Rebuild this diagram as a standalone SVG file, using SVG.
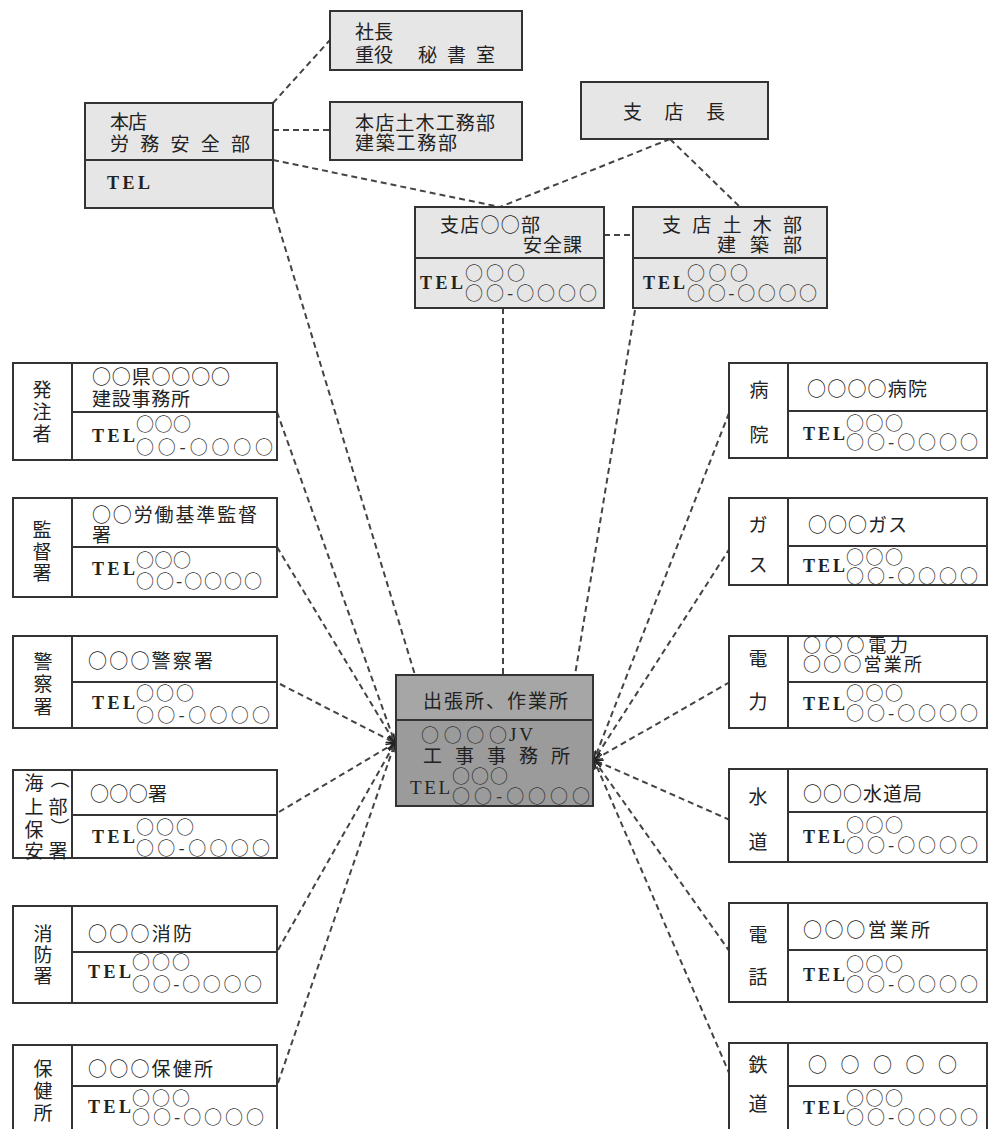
<svg xmlns="http://www.w3.org/2000/svg" width="990" height="1129" viewBox="0 0 990 1129">
<style>
.box{fill:#fff;stroke:#333;stroke-width:2}
.gbox{fill:#e6e6e6;stroke:#333;stroke-width:2}
.cbox{fill:#9b9b9b;stroke:#333;stroke-width:2}
.chd{fill:#a6a6a6;stroke:#333;stroke-width:2}
.ln{stroke:#333;stroke-width:2;fill:none}
.t{font-family:"Noto Sans CJK JP","Noto Sans CJK SC",sans-serif;font-size:19px;fill:#222;dominant-baseline:central}
.o{font-family:"Noto Sans CJK JP",sans-serif;font-size:18px;fill:#333}
.tel{font-family:"Liberation Serif",serif;font-weight:bold;font-size:18px;fill:#222}
.m{text-anchor:middle}
.conn{stroke:#444;stroke-width:2;stroke-dasharray:6 4;fill:none}
</style>
<defs>
<marker id="arr" viewBox="0 0 10 10" refX="10" refY="5" markerWidth="9" markerHeight="9" orient="auto" markerUnits="userSpaceOnUse">
<path d="M0,1 L10,5 L0,9" fill="none" stroke="#222" stroke-width="1.6" stroke-dasharray="none"/>
</marker>
</defs>

<g id="connectors">
<path class="conn" d="M273,103 L330,40"/>
<path class="conn" d="M273,130 L330,130"/>
<path class="conn" d="M273,160 L500,207"/>
<path class="conn" d="M670,139 L500,207"/>
<path class="conn" d="M670,139 L740,207"/>
<path class="conn" d="M604,235 L633,235"/>
<path class="conn" d="M273,208 L415,675"/>
<path class="conn" d="M503,308 L503,675"/>
<path class="conn" d="M635,310 L575,675"/>
<path class="conn" d="M277,412 L395,743" marker-end="url(#arr)"/>
<path class="conn" d="M277,547 L395,743" marker-end="url(#arr)"/>
<path class="conn" d="M280,684 L395,743" marker-end="url(#arr)"/>
<path class="conn" d="M279,812 L395,743" marker-end="url(#arr)"/>
<path class="conn" d="M278,950 L395,743" marker-end="url(#arr)"/>
<path class="conn" d="M278,1083 L395,743" marker-end="url(#arr)"/>
<path class="conn" d="M729,413 L594,760" marker-end="url(#arr)"/>
<path class="conn" d="M730,548 L594,760" marker-end="url(#arr)"/>
<path class="conn" d="M730,682 L594,760" marker-end="url(#arr)"/>
<path class="conn" d="M730,820 L594,760" marker-end="url(#arr)"/>
<path class="conn" d="M730,952 L594,760" marker-end="url(#arr)"/>
<path class="conn" d="M730,1075 L594,760" marker-end="url(#arr)"/>
</g>

<g id="shacho">
<rect class="gbox" x="330" y="11" width="192" height="59"/>
<text class="t"><tspan x="355" y="30" textLength="38" lengthAdjust="spacing">社長</tspan><tspan x="355" y="53" textLength="38" lengthAdjust="spacing">重役</tspan><tspan x="418" y="53" textLength="77" lengthAdjust="spacing">秘書室</tspan></text>
</g>

<g id="honten-koumu">
<rect class="gbox" x="330" y="102" width="192" height="58"/>
<text class="t"><tspan x="355" y="121" textLength="140" lengthAdjust="spacing">本店土木工務部</tspan><tspan x="355" y="141" textLength="102" lengthAdjust="spacing">建築工務部</tspan></text>
</g>

<g id="honten-anzen">
<rect class="gbox" x="85" y="103" width="188" height="105"/>
<line class="ln" x1="85" y1="160" x2="273" y2="160"/>
<text class="t"><tspan x="110" y="120" textLength="37" lengthAdjust="spacing">本店</tspan><tspan x="110" y="142" textLength="140" lengthAdjust="spacing">労務安全部</tspan></text>
<text class="t tel" x="107" y="183" textLength="43" lengthAdjust="spacing">TEL</text>
</g>

<g id="shitencho">
<rect class="gbox" x="581" y="82" width="187" height="57"/>
<text class="t" x="623" y="110" textLength="102" lengthAdjust="spacing">支店長</text>
</g>

<g id="shiten-anzen">
<rect class="gbox" x="415" y="207" width="189" height="101"/>
<line class="ln" x1="415" y1="258" x2="604" y2="258"/>
<text class="t"><tspan x="440" y="223" textLength="100" lengthAdjust="spacing">支店○○部</tspan><tspan x="523" y="243" textLength="59" lengthAdjust="spacing">安全課</tspan></text>
<text class="t"><tspan class="tel" x="420" y="283" textLength="43" lengthAdjust="spacing">TEL</tspan><tspan class="o" x="465" y="272" textLength="60" lengthAdjust="spacing">○○○</tspan><tspan class="o" x="465" y="292" textLength="132" lengthAdjust="spacing">○○-○○○○</tspan></text>
</g>

<g id="shiten-doboku">
<rect class="gbox" x="633" y="207" width="194" height="101"/>
<line class="ln" x1="633" y1="258" x2="827" y2="258"/>
<text class="t"><tspan x="662" y="223" textLength="140" lengthAdjust="spacing">支店土木部</tspan><tspan x="717" y="243" textLength="85" lengthAdjust="spacing">建築部</tspan></text>
<text class="t"><tspan class="tel" x="643" y="283" textLength="42" lengthAdjust="spacing">TEL</tspan><tspan class="o" x="687" y="272" textLength="61" lengthAdjust="spacing">○○○</tspan><tspan class="o" x="687" y="292" textLength="130" lengthAdjust="spacing">○○-○○○○</tspan></text>
</g>

<g id="center">
<rect class="cbox" x="396" y="675" width="197" height="131"/>
<rect class="chd" x="396" y="675" width="197" height="45"/>
<text class="t" x="423" y="699" textLength="145" lengthAdjust="spacing">出張所、作業所</text>
<text class="t"><tspan class="o" x="421" y="734" textLength="86" lengthAdjust="spacing">○○○○</tspan><tspan x="509" y="734" style="font-family:'Liberation Serif',serif" textLength="24" lengthAdjust="spacing">JV</tspan><tspan x="423" y="754" textLength="147" lengthAdjust="spacing">工事事務所</tspan><tspan x="410" y="787" style="font-family:'Liberation Serif',serif" textLength="40" lengthAdjust="spacing">TEL</tspan><tspan class="o" x="452" y="775" textLength="56" lengthAdjust="spacing">○○○</tspan><tspan class="o" x="452" y="795" textLength="138" lengthAdjust="spacing">○○-○○○○</tspan></text>
</g>

<!-- Left boxes -->
<g id="hacchusha">
<rect class="box" x="13" y="363" width="264" height="97"/>
<line class="ln" x1="72" y1="363" x2="72" y2="460"/>
<line class="ln" x1="72" y1="412" x2="277" y2="412"/>
<text class="t m"><tspan x="42" y="388">発</tspan><tspan x="42" y="410">注</tspan><tspan x="42" y="432">者</tspan></text>
<text class="t"><tspan x="92" y="375" textLength="138" lengthAdjust="spacing">○○県○○○○</tspan><tspan x="92" y="397" textLength="98" lengthAdjust="spacing">建設事務所</tspan></text>
<text class="t"><tspan class="tel" x="92" y="436" textLength="43" lengthAdjust="spacing">TEL</tspan><tspan class="o" x="136" y="423" textLength="55" lengthAdjust="spacing">○○○</tspan><tspan class="o" x="136" y="446" textLength="137" lengthAdjust="spacing">○○-○○○○</tspan></text>
</g>

<g id="kantokusho">
<rect class="box" x="13" y="498" width="264" height="99"/>
<line class="ln" x1="72" y1="498" x2="72" y2="597"/>
<line class="ln" x1="72" y1="547" x2="277" y2="547"/>
<text class="t m"><tspan x="42" y="528">監</tspan><tspan x="42" y="550">督</tspan><tspan x="42" y="571">署</tspan></text>
<text class="t"><tspan x="92" y="513" textLength="165" lengthAdjust="spacing">○○労働基準監督</tspan><tspan x="92" y="533">署</tspan></text>
<text class="t"><tspan class="tel" x="92" y="569" textLength="43" lengthAdjust="spacing">TEL</tspan><tspan class="o" x="136" y="559" textLength="55" lengthAdjust="spacing">○○○</tspan><tspan class="o" x="136" y="580" textLength="126" lengthAdjust="spacing">○○-○○○○</tspan></text>
</g>

<g id="keisatsusho">
<rect class="box" x="13" y="636" width="264" height="92"/>
<line class="ln" x1="72" y1="636" x2="72" y2="728"/>
<line class="ln" x1="72" y1="682" x2="277" y2="682"/>
<text class="t m"><tspan x="43" y="660">警</tspan><tspan x="43" y="682">察</tspan><tspan x="43" y="705">署</tspan></text>
<text class="t" x="88" y="659" textLength="125" lengthAdjust="spacing">○○○警察署</text>
<text class="t"><tspan class="tel" x="92" y="703" textLength="43" lengthAdjust="spacing">TEL</tspan><tspan class="o" x="136" y="692" textLength="58" lengthAdjust="spacing">○○○</tspan><tspan class="o" x="136" y="714" textLength="134" lengthAdjust="spacing">○○-○○○○</tspan></text>
</g>

<g id="kaijohoan">
<rect class="box" x="13" y="770" width="264" height="88"/>
<line class="ln" x1="72" y1="770" x2="72" y2="858"/>
<line class="ln" x1="72" y1="815" x2="277" y2="815"/>
<text class="t m"><tspan x="34" y="781">海</tspan><tspan x="60" y="777">︵</tspan><tspan x="34" y="805">上</tspan><tspan x="58" y="805">部</tspan><tspan x="34" y="828">保</tspan><tspan x="60" y="826">︶</tspan><tspan x="34" y="849">安</tspan><tspan x="58" y="849">署</tspan></text>
<text class="t" x="90" y="792" textLength="77" lengthAdjust="spacing">○○○署</text>
<text class="t"><tspan class="tel" x="92" y="837" textLength="43" lengthAdjust="spacing">TEL</tspan><tspan class="o" x="136" y="826" textLength="58" lengthAdjust="spacing">○○○</tspan><tspan class="o" x="136" y="847" textLength="134" lengthAdjust="spacing">○○-○○○○</tspan></text>
</g>

<g id="shobosho">
<rect class="box" x="13" y="906" width="264" height="97"/>
<line class="ln" x1="72" y1="906" x2="72" y2="1003"/>
<line class="ln" x1="72" y1="952" x2="277" y2="952"/>
<text class="t m"><tspan x="43" y="932">消</tspan><tspan x="43" y="953">防</tspan><tspan x="43" y="974">署</tspan></text>
<text class="t" x="88" y="932" textLength="104" lengthAdjust="spacing">○○○消防</text>
<text class="t"><tspan class="tel" x="88" y="972" textLength="43" lengthAdjust="spacing">TEL</tspan><tspan class="o" x="132" y="961" textLength="58" lengthAdjust="spacing">○○○</tspan><tspan class="o" x="132" y="983" textLength="130" lengthAdjust="spacing">○○-○○○○</tspan></text>
</g>

<g id="hokenjo">
<rect class="box" x="13" y="1045" width="264" height="92"/>
<line class="ln" x1="72" y1="1045" x2="72" y2="1137"/>
<line class="ln" x1="72" y1="1086" x2="277" y2="1086"/>
<text class="t m"><tspan x="43" y="1067">保</tspan><tspan x="43" y="1089">健</tspan><tspan x="43" y="1111">所</tspan></text>
<text class="t" x="88" y="1067" textLength="125" lengthAdjust="spacing">○○○保健所</text>
<text class="t"><tspan class="tel" x="88" y="1107" textLength="43" lengthAdjust="spacing">TEL</tspan><tspan class="o" x="132" y="1097" textLength="58" lengthAdjust="spacing">○○○</tspan><tspan class="o" x="132" y="1116" textLength="132" lengthAdjust="spacing">○○-○○○○</tspan></text>
</g>

<!-- Right boxes -->
<g id="byoin">
<rect class="box" x="729" y="363" width="258" height="95"/>
<line class="ln" x1="788" y1="363" x2="788" y2="458"/>
<line class="ln" x1="788" y1="411" x2="987" y2="411"/>
<text class="t m"><tspan x="759" y="388">病</tspan><tspan x="759" y="433">院</tspan></text>
<text class="t" x="807" y="387" textLength="120" lengthAdjust="spacing">○○○○病院</text>
<text class="t"><tspan class="tel" x="803" y="434" textLength="42" lengthAdjust="spacing">TEL</tspan><tspan class="o" x="846" y="422" textLength="57" lengthAdjust="spacing">○○○</tspan><tspan class="o" x="846" y="441" textLength="132" lengthAdjust="spacing">○○-○○○○</tspan></text>
</g>

<g id="gas">
<rect class="box" x="729" y="498" width="258" height="87"/>
<line class="ln" x1="788" y1="498" x2="788" y2="585"/>
<line class="ln" x1="788" y1="546" x2="987" y2="546"/>
<text class="t m"><tspan x="758" y="523">ガ</tspan><tspan x="758" y="563">ス</tspan></text>
<text class="t" x="808" y="523" textLength="99" lengthAdjust="spacing">○○○ガス</text>
<text class="t"><tspan class="tel" x="803" y="566" textLength="42" lengthAdjust="spacing">TEL</tspan><tspan class="o" x="846" y="556" textLength="57" lengthAdjust="spacing">○○○</tspan><tspan class="o" x="846" y="575" textLength="132" lengthAdjust="spacing">○○-○○○○</tspan></text>
</g>

<g id="denryoku">
<rect class="box" x="729" y="636" width="258" height="92"/>
<line class="ln" x1="788" y1="636" x2="788" y2="728"/>
<line class="ln" x1="788" y1="682" x2="987" y2="682"/>
<text class="t m"><tspan x="758" y="657">電</tspan><tspan x="758" y="700">力</tspan></text>
<text class="t" style="font-size:18px"><tspan x="803" y="644" textLength="105" lengthAdjust="spacing">○○○電力</tspan><tspan x="803" y="663" textLength="119" lengthAdjust="spacing">○○○営業所</tspan></text>
<text class="t"><tspan class="tel" x="803" y="704" textLength="42" lengthAdjust="spacing">TEL</tspan><tspan class="o" x="846" y="692" textLength="57" lengthAdjust="spacing">○○○</tspan><tspan class="o" x="846" y="712" textLength="132" lengthAdjust="spacing">○○-○○○○</tspan></text>
</g>

<g id="suido">
<rect class="box" x="729" y="769" width="258" height="93"/>
<line class="ln" x1="788" y1="769" x2="788" y2="862"/>
<line class="ln" x1="788" y1="812" x2="987" y2="812"/>
<text class="t m"><tspan x="758" y="795">水</tspan><tspan x="758" y="840">道</tspan></text>
<text class="t" x="803" y="792" textLength="119" lengthAdjust="spacing">○○○水道局</text>
<text class="t"><tspan class="tel" x="803" y="837" textLength="42" lengthAdjust="spacing">TEL</tspan><tspan class="o" x="846" y="824" textLength="57" lengthAdjust="spacing">○○○</tspan><tspan class="o" x="846" y="844" textLength="132" lengthAdjust="spacing">○○-○○○○</tspan></text>
</g>

<g id="denwa">
<rect class="box" x="729" y="903" width="258" height="99"/>
<line class="ln" x1="788" y1="903" x2="788" y2="1002"/>
<line class="ln" x1="788" y1="950" x2="987" y2="950"/>
<text class="t m"><tspan x="758" y="933">電</tspan><tspan x="758" y="975">話</tspan></text>
<text class="t" x="803" y="928" textLength="127" lengthAdjust="spacing">○○○営業所</text>
<text class="t"><tspan class="tel" x="803" y="975" textLength="42" lengthAdjust="spacing">TEL</tspan><tspan class="o" x="846" y="963" textLength="57" lengthAdjust="spacing">○○○</tspan><tspan class="o" x="846" y="983" textLength="132" lengthAdjust="spacing">○○-○○○○</tspan></text>
</g>

<g id="tetsudo">
<rect class="box" x="729" y="1043" width="258" height="94"/>
<line class="ln" x1="788" y1="1043" x2="788" y2="1137"/>
<line class="ln" x1="788" y1="1086" x2="987" y2="1086"/>
<text class="t m"><tspan x="758" y="1063">鉄</tspan><tspan x="758" y="1102">道</tspan></text>
<text class="t" x="808" y="1063" textLength="149" lengthAdjust="spacing">○ ○ ○ ○ ○</text>
<text class="t"><tspan class="tel" x="803" y="1108" textLength="42" lengthAdjust="spacing">TEL</tspan><tspan class="o" x="846" y="1097" textLength="57" lengthAdjust="spacing">○○○</tspan><tspan class="o" x="846" y="1116" textLength="132" lengthAdjust="spacing">○○-○○○○</tspan></text>
</g>
</svg>
